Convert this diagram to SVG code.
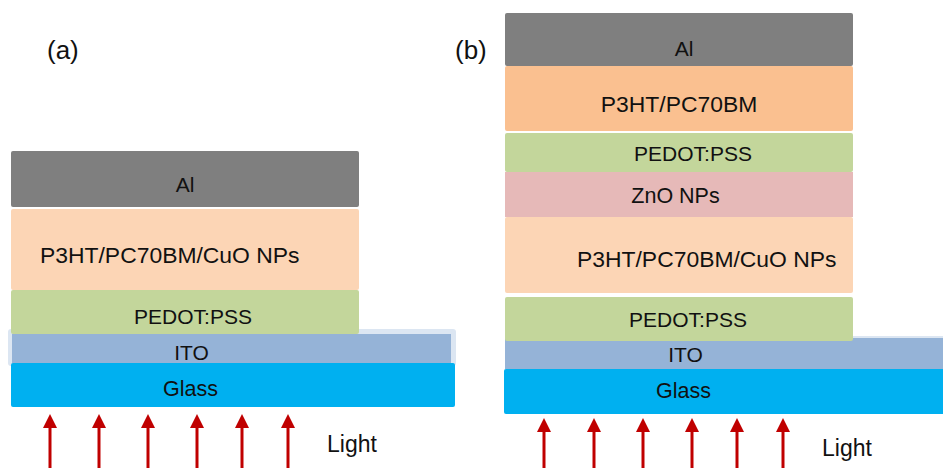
<svg xmlns="http://www.w3.org/2000/svg" width="943" height="468" viewBox="0 0 943 468">
<style>
text{font-family:"Liberation Sans",Arial,sans-serif;fill:#111;font-size:21px}
.m{text-anchor:middle}
.al{fill:#7f7f7f}
.act{fill:#fcd5b5}
.pc{fill:#fac090}
.ped{fill:#c3d69b}
.zno{fill:#e6b9b8}
.ito{fill:#95b3d7}
.glass{fill:#00b0f0}
.arr{stroke:#c00000;stroke-width:3;fill:none}
.big{font-size:22.9px}
.lbl{font-size:26px}
.lt{font-size:23px}
</style>
<defs>
<marker id="ah" viewBox="0 0 14 14" markerWidth="14" markerHeight="14" markerUnits="userSpaceOnUse" refX="6" refY="7" orient="auto">
<path d="M0,0 L14,7 L0,14 z" fill="#c00000"/>
</marker>
</defs>
<rect width="943" height="468" fill="#fff"/>
<text class="lbl" x="47" y="59">(a)</text>
<text class="lbl" x="455" y="59">(b)</text>

<g id="a-ito">
<rect x="8" y="329" width="448" height="37" rx="3" fill="#dce6f2"/>
<rect class="ito" x="12" y="334" width="439" height="29"/>
<text class="m" x="191.5" y="360">ITO</text>
</g>
<g id="a-glass">
<rect class="glass" x="11" y="363" width="444" height="44" rx="2"/>
<text class="m" x="190.5" y="396" style="font-size:21.5px">Glass</text>
</g>
<g id="a-pedot">
<rect class="ped" x="11" y="290" width="348" height="44" rx="2"/>
<text class="m" x="193" y="324">PEDOT:PSS</text>
</g>
<g id="a-active">
<rect class="act" x="11" y="209" width="348" height="81" rx="2"/>
<text class="big" x="40" y="263">P3HT/PC70BM/CuO NPs</text>
</g>
<g id="a-al">
<rect class="al" x="11" y="151" width="348" height="56" rx="2"/>
<text class="m" x="185" y="192">Al</text>
</g>
<text class="lt" x="327" y="452">Light</text>

<g id="b-ito">
<rect x="505" y="336" width="438" height="3" fill="#dce6f2"/>
<rect class="ito" x="505" y="338" width="438" height="31"/>
<text class="m" x="685.5" y="362">ITO</text>
</g>
<g id="b-glass">
<rect class="glass" x="504" y="369" width="445" height="45" rx="2"/>
<text class="m" x="683.5" y="398" style="font-size:21.5px">Glass</text>
</g>
<g id="b-pedot2">
<rect class="ped" x="505" y="297" width="348" height="44" rx="2"/>
<text class="m" x="688" y="327">PEDOT:PSS</text>
</g>
<g id="b-active">
<rect class="act" x="505" y="217" width="348" height="76" rx="2"/>
<text class="big" x="577" y="267">P3HT/PC70BM/CuO NPs</text>
</g>
<g id="b-zno">
<rect class="zno" x="505" y="172" width="348" height="45"/>
<text class="m" x="675.5" y="203" style="font-size:21.5px">ZnO NPs</text>
</g>
<g id="b-pedot1">
<rect class="ped" x="505" y="133" width="348" height="39" rx="2"/>
<text class="m" x="693" y="161">PEDOT:PSS</text>
</g>
<g id="b-pc">
<rect class="pc" x="505" y="66" width="348" height="65" rx="2"/>
<text class="m big" x="679" y="112">P3HT/PC70BM</text>
</g>
<g id="b-al">
<rect class="al" x="505" y="13" width="348" height="53" rx="2"/>
<text class="m" x="684" y="56">Al</text>
</g>
<text class="lt" x="822" y="456">Light</text>

<g id="connectors">
<line class="arr" x1="50" y1="470" x2="50" y2="422" marker-end="url(#ah)"/>
<line class="arr" x1="99" y1="470" x2="99" y2="422" marker-end="url(#ah)"/>
<line class="arr" x1="148" y1="470" x2="148" y2="422" marker-end="url(#ah)"/>
<line class="arr" x1="197" y1="470" x2="197" y2="422" marker-end="url(#ah)"/>
<line class="arr" x1="242" y1="470" x2="242" y2="422" marker-end="url(#ah)"/>
<line class="arr" x1="288" y1="470" x2="288" y2="422" marker-end="url(#ah)"/>
<line class="arr" x1="544" y1="470" x2="544" y2="426" marker-end="url(#ah)"/>
<line class="arr" x1="594" y1="470" x2="594" y2="426" marker-end="url(#ah)"/>
<line class="arr" x1="643" y1="470" x2="643" y2="426" marker-end="url(#ah)"/>
<line class="arr" x1="692" y1="470" x2="692" y2="426" marker-end="url(#ah)"/>
<line class="arr" x1="737" y1="470" x2="737" y2="426" marker-end="url(#ah)"/>
<line class="arr" x1="783" y1="470" x2="783" y2="426" marker-end="url(#ah)"/>
</g>
</svg>
